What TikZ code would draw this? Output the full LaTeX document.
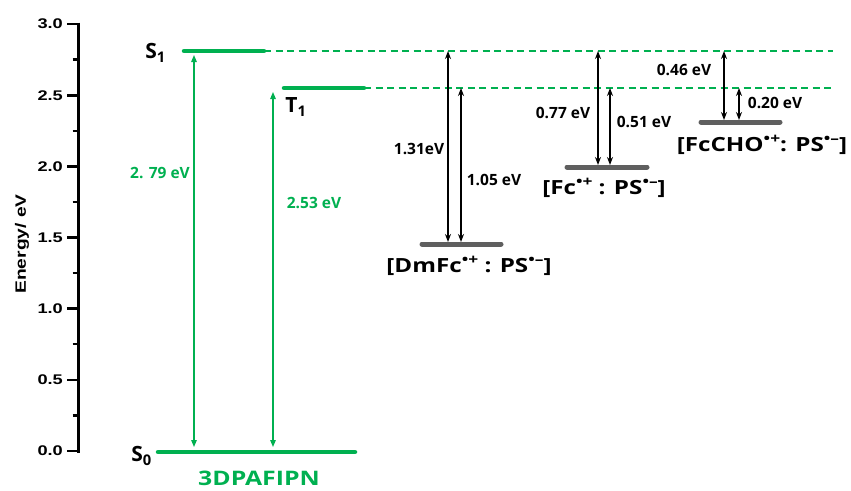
\documentclass[tikz,border=0pt]{standalone}
\usepackage{fontspec}
\usepackage{graphicx}
\setmainfont{Open Sans}
\newfontfamily\axfont{Liberation Sans}[UprightFont=*-Bold,BoldFont=*-Bold]
\usetikzlibrary{arrows.meta}
\definecolor{lvgreen}{HTML}{00B050}
\definecolor{lvgray}{HTML}{5F5F5F}
\newcommand{\rad}[1]{\raisebox{0.42em}{\fontsize{14}{14}\selectfont •#1}}
\newcommand{\wx}[1]{\scalebox{1.2}[1]{#1}}
\newcommand{\wxs}[1]{\scalebox{1.24}[1]{#1}}
\begin{document}
\begin{tikzpicture}[x=1pt,y=-1pt,
  glevel/.style={line width=4.5pt,lvgreen,line cap=round},
  klevel/.style={line width=5pt,lvgray,line cap=round},
  gdash/.style={lvgreen,line width=1.4pt,dash pattern=on 7pt off 4.5pt},
  garr/.style={lvgreen,line width=1.2pt,{Triangle[length=7pt,width=5.5pt]}-{Triangle[length=7pt,width=5.5pt]}},
  karr/.style={black,line width=1.3pt,{Stealth[length=8pt,width=6pt]}-{Stealth[length=8pt,width=6pt]}},
  axline/.style={draw=black,line width=3pt},
  ticklab/.style={font=\axfont\fontsize{14}{16}\selectfont,anchor=east,inner sep=0pt,text=black},
  vlab/.style={font=\bfseries\fontsize{15.5}{17}\selectfont,inner sep=0pt},
  glab/.style={vlab,text=lvgreen},
  slab/.style={font=\bfseries\fontsize{19.5}{22}\selectfont,inner sep=0pt},
  elab/.style={font=\bfseries\fontsize{21}{24}\selectfont,inner sep=0pt},
]
\useasboundingbox (0,0) rectangle (851,490);
% axis
\path[axline] (78,22.5) -- (78,452.5);
\foreach \v/\lab in {0/0.0,0.5/0.5,1/1.0,1.5/1.5,2/2.0,2.5/2.5,3/3.0}{
  \path[axline,line width=2.6pt] (67,451-\v*142.3) -- (78,451-\v*142.3);
  \node[ticklab] at (63,451-\v*142.3) {\scalebox{1.3}[1]{\lab}};
}
\foreach \v in {0.25,0.75,1.25,1.75,2.25,2.75}{
  \path[axline,line width=2.4pt] (72.5,451-\v*142.3) -- (78,451-\v*142.3);
}
\node[rotate=90,font=\axfont\fontsize{15}{18}\selectfont] (ylab) at (22,244) {\scalebox{1.28}[1]{Energy/ eV}};

% levels
\coordinate (S1a) at (184,51); \coordinate (S1b) at (264,51);
\coordinate (T1a) at (284,88); \coordinate (T1b) at (364,88);
\coordinate (S0a) at (158,452); \coordinate (S0b) at (355,452);
\draw[gdash] (S1b) -- (833,51) coordinate (S1e);
\draw[gdash] (T1b) -- (833,88) coordinate (T1e);
\draw[glevel] (S1a) -- (S1b);
\draw[glevel] (T1a) -- (T1b);
\draw[glevel] (S0a) -- (S0b);
\node[elab,anchor=east] (S1) at (166,53) {S\textsubscript{1}};
\node[elab] (T1) at (296,107) {T\textsubscript{1}};
\node[elab,anchor=east] (S0) at (152,456) {S\textsubscript{0}};
\node[font=\bfseries\fontsize{20}{22}\selectfont,inner sep=0pt,text=lvgreen] (name) at (259,478.5) {\scalebox{1.24}[1]{3DPAFIPN}};

% green arrows
\coordinate (g1t) at (194,55); \coordinate (g1b) at (194,447);
\coordinate (g2t) at (273,92); \coordinate (g2b) at (273,447);
\draw[garr] (g1b) -- (g1t);
\draw[garr] (g2b) -- (g2t);
\node[glab] (l279) at (160,173) {2. 79 eV};
\node[glab] (l253) at (314,203) {2.53 eV};

% CT states
\coordinate (D1) at (422,244); \coordinate (D2) at (501,244);
\coordinate (F1) at (567,167); \coordinate (F2) at (647,167);
\coordinate (C1) at (701,122); \coordinate (C2) at (780,122);
\draw[klevel] (D1) -- (D2);
\draw[klevel] (F1) -- (F2);
\draw[klevel] (C1) -- (C2);
\node[slab] (Dlab) at (469,266) {\wxs{[DmFc\rad{+} : PS\rad{–}]}};
\node[slab] (Flab) at (604,188) {\wxs{[Fc\rad{+} : PS\rad{–}]}};
\node[slab] (Clab) at (762,145) {\wxs{[FcCHO\rad{+}: PS\rad{–}]}};

% black arrows
\draw[karr] (448,51) -- (448,242);
\draw[karr] (461,88) -- (461,242);
\draw[karr] (598,51) -- (598,165);
\draw[karr] (610,88) -- (610,165);
\draw[karr] (724,51) -- (724,120);
\draw[karr] (739,88) -- (739,120);
\node[vlab] (e131) at (419,149) {1.31eV};
\node[vlab] (e105) at (494,180) {1.05 eV};
\node[vlab] (e077) at (563,113) {0.77 eV};
\node[vlab] (e051) at (644,122) {0.51 eV};
\node[vlab] (e046) at (684,70) {0.46 eV};
\node[vlab] (e020) at (775,103) {0.20 eV};
\end{tikzpicture}
\end{document}
